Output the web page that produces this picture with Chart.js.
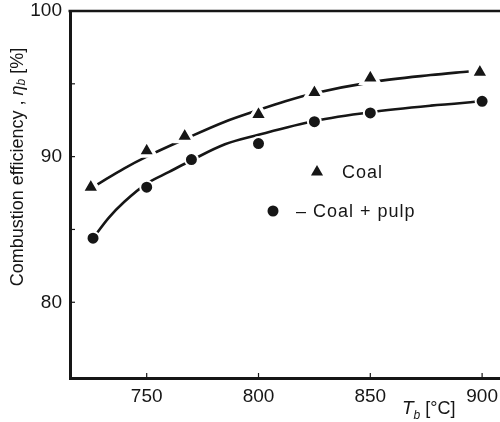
<!DOCTYPE html>
<html><head><meta charset="utf-8">
<script src="https://cdn.jsdelivr.net/npm/chart.js@4"></script>
<style>html,body{margin:0;padding:0;background:#fff;overflow:hidden}#wrap{width:500px;height:422px;position:relative}canvas{display:block}</style>
</head><body><div id="wrap"><canvas id="c"></canvas></div>
<script>
// ---- data ----
const coalTemp = [725, 750, 767, 800, 825, 850, 899];
const coalEff  = [87.9, 90.4, 91.4, 92.9, 94.4, 95.4, 95.8];
const pulpTemp = [726, 750, 770, 800, 825, 850, 900];
const pulpEff  = [84.4, 87.9, 89.8, 90.9, 92.4, 93.0, 93.8];
// fitted curves as traced on the picture
const coalFitTemp = [728, 740, 750, 767, 785, 800, 812, 825, 850, 877, 894];
const coalFitEff  = [88.1, 89.2, 90.0, 91.2, 92.4, 93.2, 93.8, 94.35, 95.1, 95.6, 95.85];
const pulpFitTemp = [726, 733, 740, 750, 760, 770, 785, 800, 825, 850, 877, 900];
const pulpFitEff  = [84.4, 85.8, 86.9, 88.15, 88.95, 89.75, 90.85, 91.5, 92.45, 93.05, 93.5, 93.8];
const xTicks = [750, 800, 850, 900];
const yTicks = [80, 85, 90, 95, 100];
const yLabelled = [80, 90, 100];
const legendLabels = ['Coal', '\u2013 Coal + pulp'];

const INK = '#161616';
const FONT = '"Liberation Sans", Arial, Helvetica, sans-serif';
const pts = (xs, ys) => xs.map((v, i) => ({x: v, y: ys[i]}));

const decor = {
  id: 'decor',
  afterDraw(chart) {
    const {ctx, chartArea: a, scales: {x, y}} = chart;
    ctx.save();
    ctx.strokeStyle = INK; ctx.fillStyle = INK;
    // top frame line
    ctx.lineWidth = 2.5;
    ctx.beginPath(); ctx.moveTo(a.left - 1.5, a.top); ctx.lineTo(a.right, a.top); ctx.stroke();
    // inward ticks
    ctx.lineWidth = 1.2;
    yTicks.forEach(v => {
      if (v >= 100) return;
      const py = y.getPixelForValue(v);
      ctx.beginPath(); ctx.moveTo(a.left, py); ctx.lineTo(a.left + 5, py); ctx.stroke();
    });
    xTicks.forEach(v => {
      const px = x.getPixelForValue(v);
      ctx.beginPath(); ctx.moveTo(px, a.bottom); ctx.lineTo(px, a.bottom - 5); ctx.stroke();
    });
    // legend
    ctx.font = '18px ' + FONT;
    try { ctx.letterSpacing = '1px'; } catch (e) {}
    ctx.textBaseline = 'middle'; ctx.textAlign = 'left';
    const tx = 317, ty = 172, r = 7;
    ctx.beginPath();
    ctx.moveTo(tx, ty - r);
    ctx.lineTo(tx + r * 0.866, ty + r * 0.5);
    ctx.lineTo(tx - r * 0.866, ty + r * 0.5);
    ctx.closePath(); ctx.fill();
    ctx.fillText(legendLabels[0], 342, ty + 1);
    const cx = 273, cy = 211;
    ctx.beginPath(); ctx.arc(cx, cy, 5.5, 0, Math.PI * 2); ctx.fill();
    ctx.fillText(legendLabels[1], 296, cy + 1);
    try { ctx.letterSpacing = '0px'; } catch (e) {}
    // y axis title (rotated)
    ctx.save();
    ctx.translate(18, 167);
    ctx.rotate(-Math.PI / 2);
    const parts = [
      ['Combustion efficiency , ', '18px ' + FONT, 0],
      ['\u03b7', 'italic 18px ' + FONT, 0],
      ['b', 'italic 12px ' + FONT, 4],
      [' [%]', '18px ' + FONT, 0]
    ];
    let total = 0;
    parts.forEach(p => { ctx.font = p[1]; total += ctx.measureText(p[0]).width; });
    let px0 = -total / 2;
    ctx.textBaseline = 'middle';
    parts.forEach(p => { ctx.font = p[1]; ctx.fillText(p[0], px0, p[2]); px0 += ctx.measureText(p[0]).width; });
    ctx.restore();
    // x axis title
    ctx.textBaseline = 'alphabetic';
    let xx = 402;
    const xb = 414;
    [['T', 'italic 19px ' + FONT, 0], ['b', 'italic 12px ' + FONT, 5], [' [\u00b0C]', '18px ' + FONT, 0]].forEach(p => {
      ctx.font = p[1]; ctx.fillText(p[0], xx, xb + p[2]); xx += ctx.measureText(p[0]).width;
    });
    ctx.restore();
  }
};

new Chart(document.getElementById('c'), {
  type: 'scatter',
  data: {
    datasets: [
      { label: 'Coal fit', data: pts(coalFitTemp, coalFitEff), showLine: true, borderColor: INK, borderWidth: 2.6,
        pointRadius: 0, cubicInterpolationMode: 'monotone', order: 2 },
      { label: 'Coal + pulp fit', data: pts(pulpFitTemp, pulpFitEff), showLine: true, borderColor: INK, borderWidth: 2.6,
        pointRadius: 0, cubicInterpolationMode: 'monotone', order: 2 },
      { label: 'Coal', data: pts(coalTemp, coalEff), pointStyle: 'triangle', pointRadius: 10.5,
        backgroundColor: INK, borderColor: '#fff', borderWidth: 3.5, order: 1 },
      { label: 'Coal + pulp', data: pts(pulpTemp, pulpEff), pointStyle: 'circle', pointRadius: 6.5,
        backgroundColor: INK, borderColor: '#fff', borderWidth: 2, order: 1 }
    ]
  },
  options: {
    responsive: true, maintainAspectRatio: false, animation: false,
    layout: { autoPadding: false, padding: { top: 11, right: 0, left: 0, bottom: 0 } },
    plugins: { legend: { display: false }, tooltip: { enabled: false } },
    elements: { point: { hoverRadius: 0 } },
    scales: {
      x: {
        type: 'linear', min: 715.7, max: 908,
        afterBuildTicks: s => { s.ticks = xTicks.map(v => ({value: v})); },
        afterFit: s => { s.height = 44; },
        grid: { display: false, drawTicks: false },
        border: { display: true, color: INK, width: 3 },
        ticks: { autoSkip: false, maxRotation: 0, padding: 0, color: INK,
          font: { family: FONT, size: 19, lineHeight: 2.0 } }
      },
      y: {
        type: 'linear', min: 74.8, max: 100,
        afterBuildTicks: s => { s.ticks = yTicks.map(v => ({value: v})); },
        afterFit: s => { s.width = 70; s.paddingTop = 0; s.paddingBottom = 0; },
        grid: { display: false, drawTicks: false },
        border: { display: true, color: INK, width: 3 },
        ticks: { autoSkip: false, padding: 8, color: INK, font: { family: FONT, size: 19 },
          callback: v => yLabelled.includes(v) ? String(v) : '' }
      }
    }
  },
  plugins: [decor]
});
</script>
</body></html>
